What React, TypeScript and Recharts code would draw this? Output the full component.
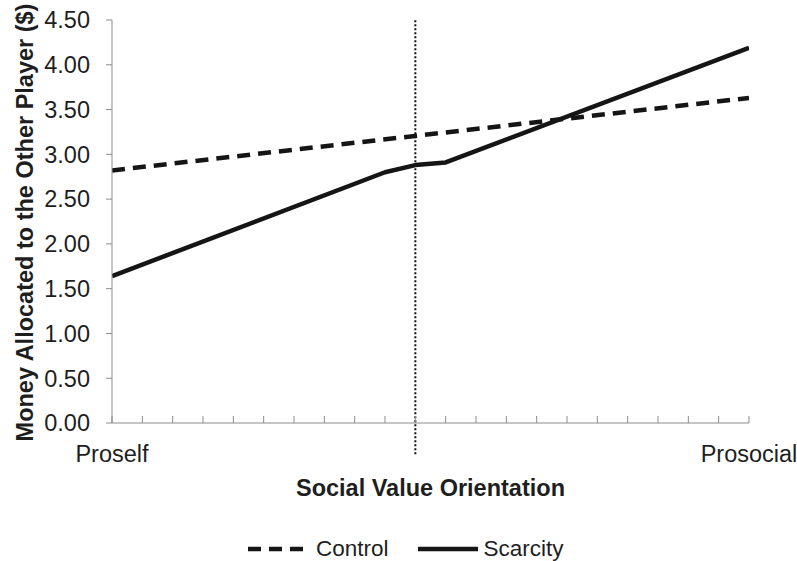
import React from 'react';
import { LineChart, Line, XAxis, YAxis, Legend, ReferenceLine } from 'recharts';

// Social value orientation scale positions (0 = proself end, 21 = prosocial end)
const xScaleTicks = [0, 1, 2, 3, 4, 5, 6, 7, 8, 9, 10, 11, 12, 13, 14, 15, 16, 17, 18, 19, 20, 21];
const xEndLabels = ['Proself', 'Prosocial'];

// Money allocated ($)
const controlX = [0, 21];
const controlY = [2.82, 3.63];
const scarcityX = [0, 9, 10, 11, 21];
const scarcityY = [1.64, 2.8, 2.88, 2.91, 4.19];

const yTicks = [0, 0.5, 1, 1.5, 2, 2.5, 3, 3.5, 4, 4.5];
const midpointX = 10;
const midpointSpan = [-0.35, 4.52];

const controlData = controlX.map((x, i) => ({ x, value: controlY[i] }));
const scarcityData = scarcityX.map((x, i) => ({ x, value: scarcityY[i] }));

const FONT = '"Liberation Sans", Arial, Helvetica, sans-serif';
const TEXT = '#1e1e1e';
const AXIS = '#8c8c8c';
const INK = '#151515';
const FS = 23.5;

const XTick = (props: any) => {
  const { x, y, payload } = props;
  const v = payload.value;
  let label: string | null = null;
  if (v === xScaleTicks[0]) label = xEndLabels[0];
  if (v === xScaleTicks[xScaleTicks.length - 1]) label = xEndLabels[1];
  return (
    <g>
      <line x1={x} x2={x} y1={y} y2={y - 7} stroke={AXIS} strokeWidth={1} />
      {label && (
        <text x={x} y={y + 39} textAnchor="middle" fontSize={FS} fill={TEXT} fontFamily={FONT}>
          {label}
        </text>
      )}
    </g>
  );
};

const YTitle = (props: any) => {
  const { viewBox } = props;
  const cy = viewBox.y + viewBox.height / 2 + 1;
  return (
    <text
      transform={`translate(33, ${cy}) rotate(-90)`}
      textAnchor="middle"
      fontSize={FS}
      fontWeight="bold"
      fill={TEXT}
      fontFamily={FONT}
    >
      Money Allocated to the Other Player ($)
    </text>
  );
};

const XTitle = (props: any) => {
  const { viewBox } = props;
  const cx = viewBox.x + viewBox.width / 2;
  return (
    <text x={cx} y={496} textAnchor="middle" fontSize={FS} fontWeight="bold" fill={TEXT} fontFamily={FONT}>
      Social Value Orientation
    </text>
  );
};

const LegendContent = (props: any) => {
  const items = props.payload || [];
  return (
    <div style={{ display: 'flex', alignItems: 'center', height: 28, fontFamily: FONT, fontSize: 22.5, color: TEXT }}>
      {items.map((entry: any, i: number) => {
        const dashed = entry.value === 'Control';
        const w = dashed ? 55 : 60;
        return (
          <div
            key={entry.value}
            style={{ display: 'flex', alignItems: 'center', marginLeft: i === 0 ? 0 : 29 }}
          >
            <svg width={w} height={8} style={{ display: 'block' }}>
              <line
                x1={0}
                x2={w}
                y1={4}
                y2={4}
                stroke={INK}
                strokeWidth={4.5}
                strokeDasharray={dashed ? '13 8' : undefined}
              />
            </svg>
            <span style={{ marginLeft: dashed ? 13 : 6, lineHeight: '28px' }}>{entry.value}</span>
          </div>
        );
      })}
    </div>
  );
};

export default function App() {
  return (
    <div style={{ position: 'absolute', left: 0, top: 0, width: 797, height: 561, background: '#fff', fontFamily: FONT }}>
      <LineChart
        width={797}
        height={561}
        margin={{ top: 20, right: 48, left: 0, bottom: 108 }}
        style={{ fontFamily: FONT }}
      >
        <XAxis
          type="number"
          dataKey="x"
          domain={[0, 21]}
          ticks={xScaleTicks}
          interval={0}
          allowDataOverflow
          height={30}
          tickSize={0}
          tickMargin={0}
          tickLine={false}
          axisLine={{ stroke: AXIS, strokeWidth: 1 }}
          tick={<XTick />}
          label={<XTitle />}
        />
        <YAxis
          type="number"
          domain={[0, 4.5]}
          ticks={yTicks}
          interval={0}
          width={112}
          tickSize={6}
          tickMargin={16}
          tickLine={{ stroke: AXIS, strokeWidth: 1 }}
          axisLine={{ stroke: AXIS, strokeWidth: 1 }}
          tick={{ fontSize: FS, fill: TEXT, fontFamily: FONT }}
          tickFormatter={(v: number) => v.toFixed(2)}
          label={<YTitle />}
        />
        <ReferenceLine
          segment={[
            { x: midpointX, y: midpointSpan[0] },
            { x: midpointX, y: midpointSpan[1] },
          ]}
          ifOverflow="visible"
          stroke={INK}
          strokeWidth={2}
          strokeDasharray="2 2"
        />
        <Line
          data={controlData}
          dataKey="value"
          name="Control"
          type="linear"
          stroke={INK}
          strokeWidth={4.5}
          strokeDasharray="13 8"
          dot={false}
          activeDot={false}
          isAnimationActive={false}
          legendType="line"
        />
        <Line
          data={scarcityData}
          dataKey="value"
          name="Scarcity"
          type="linear"
          stroke={INK}
          strokeWidth={4.5}
          strokeLinejoin="round"
          dot={false}
          activeDot={false}
          isAnimationActive={false}
          legendType="line"
        />
        <Legend
          verticalAlign="middle"
          align="center"
          layout="horizontal"
          content={<LegendContent />}
          wrapperStyle={{ top: 535, left: 248, width: 400, height: 28 }}
        />
      </LineChart>
    </div>
  );
}
